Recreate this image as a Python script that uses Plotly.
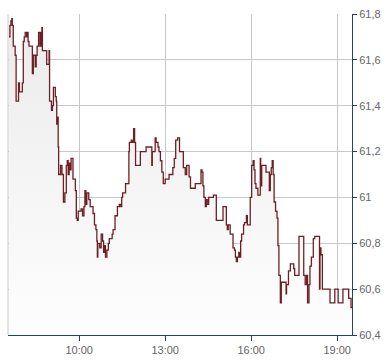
import plotly.graph_objects as go

day = "2024-01-02 "
times = [
    "07:33", "07:35", "07:37", "07:39", "07:40", "07:42", "07:46", "07:48", "07:53", "07:55",
    "08:01", "08:03", "08:05", "08:07", "08:10", "08:11", "08:13", "08:15", "08:22", "08:24",
    "08:28", "08:30", "08:32", "08:35", "08:38", "08:39", "08:40", "08:42", "08:43", "08:52",
    "08:57", "08:58", "09:02", "09:04", "09:06", "09:10", "09:12", "09:13", "09:15", "09:16",
    "09:17", "09:21", "09:24", "09:27", "09:30", "09:33", "09:35", "09:37", "09:39", "09:41",
    "09:43", "09:47", "09:52", "09:54", "09:56", "09:58", "10:04", "10:07", "10:10", "10:12",
    "10:14", "10:16", "10:20", "10:23", "10:29", "10:32", "10:35", "10:37", "10:38", "10:39",
    "10:43", "10:46", "10:49", "10:51", "10:53", "10:55", "10:58", "11:01", "11:03", "11:09",
    "11:11", "11:15", "11:20", "11:24", "11:27", "11:29", "11:31", "11:37", "11:44", "11:45",
    "11:49", "11:51", "11:54", "11:56", "11:58", "12:08", "12:20", "12:32", "12:33", "12:39",
    "12:41", "12:45", "12:47", "12:50", "12:53", "12:56", "13:00", "13:08", "13:16", "13:19",
    "13:22", "13:26", "13:30", "13:38", "13:42", "13:45", "13:50", "13:53", "14:03", "14:15",
    "14:17", "14:19", "14:21", "14:24", "14:26", "14:28", "14:31", "14:41", "14:47", "15:01",
    "15:08", "15:10", "15:12", "15:16", "15:22", "15:25", "15:27", "15:29", "15:31", "15:34",
    "15:36", "15:38", "15:40", "15:44", "15:46", "15:50", "15:52", "15:58", "16:01", "16:04",
    "16:06", "16:08", "16:10", "16:14", "16:19", "16:20", "16:22", "16:31", "16:38", "16:40",
    "16:42", "16:44", "16:46", "16:48", "16:51", "16:54", "16:56", "16:58", "17:01", "17:03",
    "17:13", "17:14", "17:18", "17:22", "17:29", "17:31", "17:40", "17:50", "17:53", "17:56",
    "17:58", "18:01", "18:03", "18:06", "18:10", "18:13", "18:23", "18:24", "18:26", "18:29",
    "18:45", "18:55", "19:02", "19:12", "19:24", "19:29", "19:31",
]
prices = [
    61.70, 61.75, 61.77, 61.78, 61.75, 61.66, 61.62, 61.42, 61.50, 61.46,
    61.50, 61.68, 61.70, 61.72, 61.70, 61.72, 61.68, 61.66, 61.54, 61.62,
    61.57, 61.62, 61.66, 61.72, 61.66, 61.72, 61.66, 61.74, 61.64, 61.58,
    61.64, 61.42, 61.38, 61.40, 61.48, 61.44, 61.42, 61.32, 61.35, 61.22,
    61.10, 61.14, 61.10, 60.98, 61.02, 61.14, 61.16, 61.10, 61.15, 61.12,
    61.17, 61.08, 61.03, 60.91, 60.90, 60.94, 60.95, 60.92, 60.96, 61.03,
    60.97, 61.02, 60.99, 60.96, 60.93, 60.88, 60.86, 60.81, 60.74, 60.80,
    60.78, 60.84, 60.81, 60.76, 60.79, 60.74, 60.77, 60.80, 60.82, 60.84,
    60.86, 60.92, 60.96, 60.97, 60.96, 61.00, 61.02, 61.06, 61.20, 61.24,
    61.25, 61.24, 61.30, 61.24, 61.14, 61.20, 61.22, 61.14, 61.20, 61.26,
    61.24, 61.22, 61.20, 61.16, 61.11, 61.06, 61.08, 61.10, 61.13, 61.17,
    61.25, 61.26, 61.20, 61.13, 61.10, 61.14, 61.09, 61.04, 61.06, 61.12,
    61.11, 61.05, 61.00, 60.96, 60.99, 60.97, 61.00, 61.01, 60.90, 60.96,
    60.88, 60.86, 60.88, 60.84, 60.78, 60.77, 60.74, 60.72, 60.74, 60.76,
    60.74, 60.81, 60.84, 60.88, 60.89, 60.92, 60.88, 61.00, 61.14, 61.16,
    61.12, 61.06, 61.04, 61.01, 61.17, 61.05, 61.14, 61.11, 61.03, 61.10,
    61.13, 61.16, 61.10, 60.98, 60.94, 60.91, 60.79, 60.66, 60.54, 60.63,
    60.58, 60.62, 60.68, 60.71, 60.69, 60.66, 60.83, 60.66, 60.62, 60.66,
    60.54, 60.62, 60.70, 60.74, 60.82, 60.83, 60.60, 60.78, 60.75, 60.60,
    60.54, 60.60, 60.54, 60.60, 60.56, 60.52, 60.52,
]
x_ticks = ["10:00", "13:00", "16:00", "19:00"]
y_ticks = [60.4, 60.6, 60.8, 61.0, 61.2, 61.4, 61.6, 61.8]

xs = [day + t for t in times]

fig = go.Figure()
fig.add_trace(go.Scatter(
    x=xs, y=prices, mode="lines",
    line=dict(shape="hv", color="#6e1f25", width=1.3),
    fill="tozeroy",
    fillgradient=dict(type="vertical", start=60.4, stop=61.8,
                      colorscale=[[0, "#fefefe"], [1, "#ebebeb"]]),
    hoverinfo="skip", showlegend=False,
))

axis_blue = "#24416f"
grid = "#c8c8c8"
fig.update_layout(
    width=390, height=364, autosize=False,
    margin=dict(l=8, r=38, t=11, b=26),
    paper_bgcolor="white", plot_bgcolor="white",
    separators=",.",
    font=dict(family="Liberation Sans, Arial, sans-serif", size=11, color="#666666"),
    xaxis=dict(
        type="date",
        range=[day + "07:31", day + "19:31"],
        tickvals=[day + t for t in x_ticks], ticktext=x_ticks,
        showgrid=True, gridcolor=grid, gridwidth=1,
        showline=True, linecolor=axis_blue, linewidth=1,
        ticks="outside", ticklen=5, tickcolor=axis_blue,
        zeroline=False, fixedrange=True,
    ),
    yaxis=dict(
        side="right",
        range=[60.4, 61.8],
        tickvals=y_ticks,
        showgrid=True, gridcolor=grid, gridwidth=1,
        showline=True, linecolor=axis_blue, linewidth=1,
        ticks="outside", ticklen=4, tickcolor=axis_blue,
        zeroline=False, fixedrange=True,
    ),
    shapes=[dict(type="line", xref="paper", yref="paper", x0=0, x1=0, y0=0, y1=1,
                 line=dict(color=grid, width=1))],
)

fig.write_html("out.html")
